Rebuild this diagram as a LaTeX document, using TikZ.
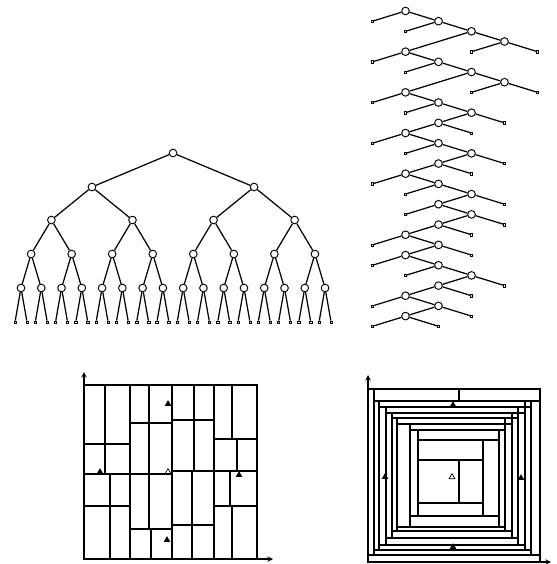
\documentclass[tikz,border=0pt]{standalone}
\usetikzlibrary{shapes,arrows,positioning,calc}
\begin{document}
\begin{tikzpicture}[x=0.03cm, y=-0.03cm]
  \tikzstyle{vtx} = [circle, draw, line width=0.8pt, fill=white, inner sep=0pt, minimum size=0.23cm]
  \tikzstyle{leaf} = [rectangle, draw, line width=0.4pt, inner sep=0pt, minimum size=0.07cm]
  \tikzstyle{edge} = [line width=1.05pt]
  \tikzstyle{wall} = [line width=1.2pt]
  \tikzstyle{axis} = [line width=1.1pt,->,>=stealth]
  \tikzstyle{tri} = [regular polygon, regular polygon sides=3, fill=black, inner sep=0pt, minimum size=0.23cm]
  \tikzstyle{otri} = [regular polygon, regular polygon sides=3, draw, line width=0.6pt, inner sep=0pt, minimum size=0.2cm]
  \useasboundingbox (0,0) rectangle (556,564);

  % complete binary tree (top left)
  \foreach \lev/\yy in {0/153,1/187,2/220,3/254,4/288} {
    \pgfmathtruncatemacro\last{2^\lev-1}
    \foreach \j in {0,...,\last} {
      \pgfmathsetmacro\xx{21+20.27*((\j+0.5)*2^(4-\lev)-0.5)}
      \node[vtx] (t\lev-\j) at (\xx,\yy) {};
    }
  }
  \foreach \lev in {0,...,3} {
    \pgfmathtruncatemacro\last{2^\lev-1}
    \pgfmathtruncatemacro\nxt{\lev+1}
    \foreach \j in {0,...,\last} {
      \pgfmathtruncatemacro\ca{2*\j}
      \pgfmathtruncatemacro\cb{2*\j+1}
      \draw[edge] (t\lev-\j) -- (t\nxt-\ca);
      \draw[edge] (t\lev-\j) -- (t\nxt-\cb);
    }
  }
  \foreach \j in {0,...,15} {
    \pgfmathsetmacro\xa{21+20.27*\j-6}
    \pgfmathsetmacro\xb{21+20.27*\j+6}
    \node[leaf] (u\j-0) at (\xa,322) {};
    \node[leaf] (u\j-1) at (\xb,322) {};
    \draw[edge] (t4-\j) -- (u\j-0);
    \draw[edge] (t4-\j) -- (u\j-1);
  }

  % skewed tree (top right)
  \foreach \r/\c in {0/1,1/2,2/3,3/4,4/1,5/2,6/3,7/4,8/1,9/2,10/3,11/2,12/1,13/2,14/3,15/2,
                     16/1,17/2,18/3,19/2,20/3,21/2,22/1,23/2,24/1,25/2,26/3,27/2,28/1,29/2,30/1}
    \node[vtx] (s\r) at ({372.5+33*\c},{11+10.17*\r}) {};
  \foreach \a/\b in {0/1,1/2,2/3,2/4,4/5,5/6,6/7,6/8,8/9,9/10,10/11,11/12,12/13,13/14,14/15,
                     15/16,16/17,17/18,18/19,19/20,20/21,21/22,22/23,23/24,24/25,25/26,26/27,
                     27/28,28/29,29/30}
    \draw[edge] (s\a) -- (s\b);
  \foreach \k/\c/\r/\p in {0/0/1/0,1/1/2/1,2/3/4/3,3/5/4/3,4/0/5/4,5/1/6/5,6/3/8/7,7/5/8/7,
                           8/0/9/8,9/1/10/9,10/4/11/10,11/3/12/11,12/0/13/12,13/1/14/13,
                           14/4/15/14,15/3/16/15,16/0/17/16,17/1/18/17,18/4/19/18,19/1/20/19,
                           20/4/21/20,21/3/22/21,22/0/23/22,23/3/24/23,24/0/25/24,25/1/26/25,
                           26/4/27/26,27/3/28/27,28/0/29/28,29/3/30/29,30/0/31/30,31/2/31/30} {
    \node[leaf] (v\k) at ({372.5+33*\c},{11+10.17*\r}) {};
    \draw[edge] (s\p) -- (v\k);
  }

  % rectangular dissection (bottom left)
  \coordinate (o1) at (84,559);
  \coordinate (y1) at (84,372);
  \coordinate (x1) at (273,559);
  \draw[wall] (84,385) rectangle (257,559);
  \foreach \xa/\ya/\xb/\yb in {105/385/105/474, 84/444/130/444, 110/474/110/559, 84/506/130/506,
                               130/385/130/559, 149/385/149/529, 130/423/172/423, 130/529/172/529,
                               151/529/151/559, 172/385/172/559, 194/385/194/471, 172/420/214/420,
                               192/471/192/559, 172/525/214/525, 214/385/214/559, 232/385/232/439,
                               214/439/257/439, 237/439/237/471, 230/471/230/506, 214/506/257/506,
                               232/506/232/559, 84/474/172/474, 172/471/257/471}
    \draw[wall] (\xa,\ya) -- (\xb,\yb);
  \draw[axis] (o1) -- (y1);
  \draw[axis] (o1) -- (x1);
  \node[tri] (p1) at (168,404) {};
  \node[tri] (p2) at (100,472) {};
  \node[tri] (p3) at (167,540) {};
  \node[tri] (p4) at (239,475) {};
  \node[otri] (p0) at (168,472) {};

  % spiral dissection (bottom right)
  \coordinate (o2) at (368,562);
  \coordinate (y2) at (368,375);
  \coordinate (x2) at (551,562);
  \draw[wall] (418,440) rectangle (483,503);
  \draw[wall] (418,460) -- (483,460);
  \draw[wall] (459,460) -- (459,503);
  \foreach \xa/\ya/\xb/\yb in {418/503/483/516, 483/440/499/516, 418/430/499/440, 410/430/418/516,
                               410/516/499/527, 499/430/505/527, 410/424/505/430, 397/424/410/527,
                               397/527/505/531, 505/418/512/531, 397/418/512/424, 392/418/397/531,
                               392/531/512/538, 512/413/518/538, 392/413/518/418, 386/413/392/538,
                               386/538/518/545, 518/407/525/545, 386/407/525/413, 379/407/386/545,
                               379/545/525/550, 525/401/531/550, 379/401/531/407, 374/401/379/550,
                               374/550/531/555, 531/401/540/555, 374/389/540/401, 368/389/374/555,
                               368/555/540/562}
    \draw[wall] (\xa,\ya) rectangle (\xb,\yb);
  \draw[wall] (459,389) -- (459,401);
  \draw[axis] (o2) -- (y2);
  \draw[axis] (o2) -- (x2);
  \node[tri] (q1) at (453,405) {};
  \node[tri] (q2) at (385,477) {};
  \node[tri] (q3) at (521,478) {};
  \node[tri] (q4) at (453,547) {};
  \node[otri] (q0) at (452,477) {};
\end{tikzpicture}
\end{document}
